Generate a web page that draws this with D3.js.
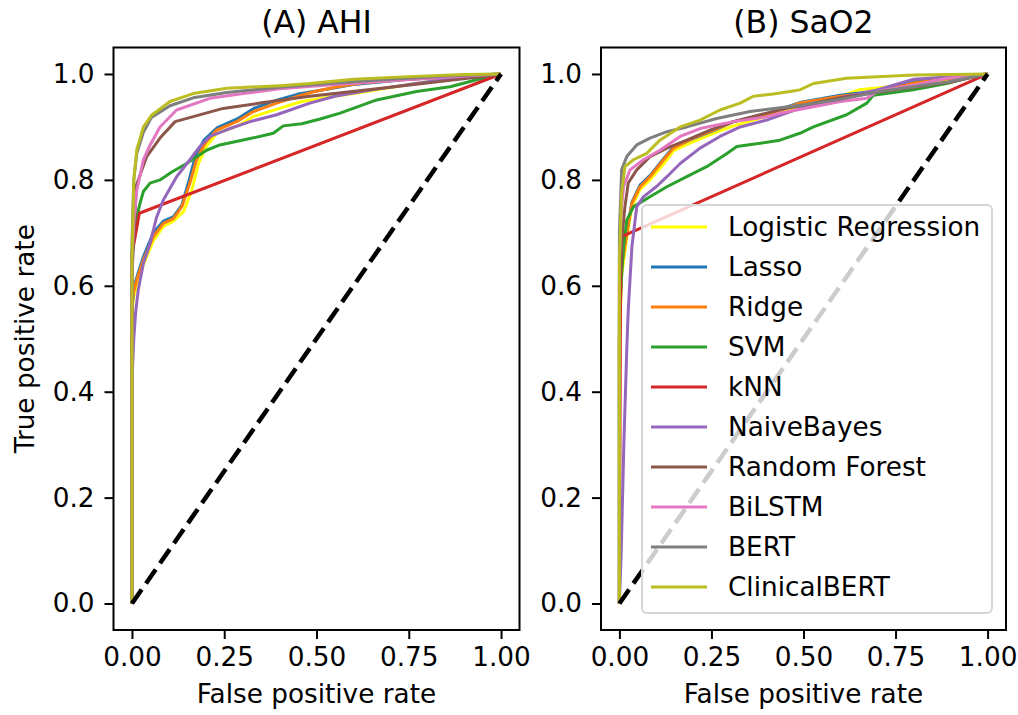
<!DOCTYPE html>
<html>
<head>
<meta charset="utf-8">
<script src="https://cdn.jsdelivr.net/npm/d3@7"></script>
<style>
  body { margin: 0; background: #fff; }
  svg text { font-family: "DejaVu Sans", sans-serif; fill: #000; }
</style>
</head>
<body>
<svg id="chart" width="1018" height="715"></svg>
<script>
// models, in plotting / legend order
const models = ["Logistic Regression", "Lasso", "Ridge", "SVM", "kNN", "NaiveBayes",
	"Random Forest", "BiLSTM", "BERT", "ClinicalBERT"];
const modelColors = ["#ffff00", "#1f77b4", "#ff7f0e", "#2ca02c", "#d62728", "#9467bd",
	"#8c564b", "#e377c2", "#7f7f7f", "#bcbd22"];
const panelTitles = ["(A) AHI", "(B) SaO2"];
const xTicks = [0, 0.25, 0.5, 0.75, 1];
const yTicks = [0, 0.2, 0.4, 0.6, 0.8, 1];
const chance = [[0, 0], [1, 1]];

// (A) AHI  -- [fpr, tpr]
const ahiLR = [[0,0],[0,0.55],[0.005,0.58],[0.013,0.6],[0.031,0.64],[0.058,0.685],[0.085,0.712],[0.112,0.722],[0.14,0.74],[0.162,0.78],[0.18,0.83],[0.2,0.862],[0.23,0.888],[0.29,0.903],[0.33,0.92],[0.4,0.935],[0.46,0.948],[0.55,0.958],[0.62,0.965],[0.75,0.98],[0.85,0.99],[1,1]];
const ahiLasso = [[0,0],[0,0.56],[0.006,0.6],[0.015,0.62],[0.031,0.655],[0.058,0.7],[0.085,0.722],[0.112,0.73],[0.135,0.752],[0.155,0.8],[0.172,0.845],[0.195,0.875],[0.23,0.898],[0.285,0.915],[0.33,0.935],[0.39,0.95],[0.45,0.962],[0.5,0.968],[0.6,0.98],[0.75,0.99],[0.9,0.996],[1,1]];
const ahiRidge = [[0,0],[0,0.57],[0.005,0.59],[0.013,0.611],[0.031,0.649],[0.058,0.693],[0.085,0.718],[0.112,0.727],[0.135,0.749],[0.157,0.794],[0.175,0.838],[0.198,0.869],[0.229,0.894],[0.284,0.91],[0.329,0.929],[0.392,0.945],[0.446,0.957],[0.49,0.966],[0.55,0.975],[0.62,0.983],[0.75,0.99],[0.9,0.996],[1,1]];
const ahiSVM = [[0,0],[0,0.66],[0.005,0.705],[0.022,0.756],[0.031,0.778],[0.049,0.794],[0.076,0.8],[0.108,0.815],[0.148,0.831],[0.202,0.856],[0.238,0.866],[0.32,0.878],[0.383,0.888],[0.41,0.902],[0.46,0.906],[0.51,0.915],[0.564,0.926],[0.663,0.951],[0.771,0.967],[0.862,0.976],[0.934,0.989],[1,1]];
const ahiKNN = [[0,0],[0,0.66],[0.008,0.69],[0.02,0.737],[1,1]];
const ahiNB = [[0,0],[0,0.42],[0.005,0.5],[0.01,0.55],[0.017,0.592],[0.031,0.642],[0.049,0.68],[0.067,0.73],[0.085,0.762],[0.121,0.806],[0.157,0.838],[0.184,0.863],[0.211,0.882],[0.266,0.897],[0.32,0.91],[0.392,0.923],[0.482,0.945],[0.55,0.958],[0.65,0.97],[0.75,0.98],[0.85,0.99],[1,1]];
const ahiRF = [[0,0],[0,0.62],[0.008,0.73],[0.012,0.79],[0.04,0.844],[0.076,0.879],[0.117,0.91],[0.247,0.935],[0.347,0.945],[0.482,0.958],[0.7,0.975],[0.95,0.995],[1,1]];
const ahiBiLSTM = [[0,0],[0,0.65],[0.005,0.72],[0.013,0.78],[0.031,0.838],[0.047,0.863],[0.076,0.9],[0.121,0.932],[0.211,0.954],[0.302,0.963],[0.4,0.972],[0.55,0.98],[0.7,0.987],[0.85,0.994],[1,1]];
const ahiBERT = [[0,0],[0,0.68],[0.005,0.8],[0.013,0.85],[0.031,0.89],[0.053,0.918],[0.103,0.94],[0.166,0.955],[0.257,0.965],[0.4,0.975],[0.55,0.983],[0.7,0.99],[0.85,0.996],[1,1]];
const ahiClinical = [[0,0],[0,0.65],[0.005,0.8],[0.013,0.857],[0.031,0.9],[0.053,0.922],[0.103,0.948],[0.166,0.963],[0.257,0.973],[0.4,0.978],[0.482,0.982],[0.6,0.99],[0.75,0.995],[0.9,0.999],[1,1]];

// (B) SaO2
const saoLR = [[0,0],[0,0.5],[0.006,0.62],[0.02,0.69],[0.034,0.75],[0.056,0.782],[0.083,0.8],[0.12,0.83],[0.147,0.855],[0.2,0.872],[0.255,0.888],[0.31,0.902],[0.4,0.92],[0.49,0.94],[0.6,0.958],[0.65,0.97],[0.8,0.98],[0.9,0.99],[1,1]];
const saoLasso = [[0,0],[0,0.5],[0.006,0.64],[0.02,0.7],[0.034,0.758],[0.056,0.79],[0.083,0.808],[0.12,0.84],[0.147,0.862],[0.2,0.878],[0.255,0.893],[0.31,0.91],[0.4,0.925],[0.49,0.946],[0.6,0.96],[0.7,0.968],[0.8,0.985],[0.9,0.993],[1,1]];
const saoRidge = [[0,0],[0,0.5],[0.006,0.636],[0.02,0.699],[0.034,0.756],[0.056,0.787],[0.083,0.806],[0.12,0.838],[0.147,0.86],[0.2,0.879],[0.255,0.894],[0.31,0.91],[0.4,0.923],[0.49,0.945],[0.6,0.958],[0.7,0.965],[0.8,0.983],[0.9,0.992],[1,1]];
const saoSVM = [[0,0],[0,0.55],[0.011,0.674],[0.02,0.724],[0.038,0.749],[0.083,0.768],[0.129,0.787],[0.183,0.806],[0.237,0.825],[0.292,0.85],[0.319,0.863],[0.382,0.869],[0.436,0.875],[0.49,0.888],[0.527,0.9],[0.617,0.923],[0.672,0.945],[0.69,0.96],[0.798,0.97],[0.889,0.982],[0.943,0.992],[1,1]];
const saoKNN = [[0,0],[0.003,0.6],[0.006,0.693],[1,1]];
const saoNB = [[0,0],[0.005,0.1],[0.012,0.3],[0.02,0.48],[0.024,0.554],[0.034,0.674],[0.047,0.749],[0.065,0.768],[0.1,0.787],[0.129,0.806],[0.165,0.831],[0.219,0.86],[0.273,0.882],[0.328,0.9],[0.4,0.913],[0.49,0.935],[0.6,0.955],[0.7,0.97],[0.8,0.99],[0.9,0.995],[1,1]];
const saoRF = [[0,0],[0,0.6],[0.008,0.7],[0.015,0.749],[0.024,0.794],[0.047,0.819],[0.083,0.844],[0.129,0.86],[0.183,0.875],[0.246,0.894],[0.31,0.91],[0.382,0.923],[0.454,0.935],[0.6,0.955],[0.75,0.97],[0.9,0.985],[1,1]];
const saoBiLSTM = [[0,0],[0,0.65],[0.005,0.74],[0.011,0.787],[0.029,0.819],[0.065,0.838],[0.11,0.856],[0.165,0.882],[0.219,0.897],[0.31,0.91],[0.4,0.919],[0.436,0.926],[0.527,0.938],[0.6,0.948],[0.672,0.954],[0.7,0.967],[0.8,0.979],[0.889,0.992],[1,1]];
const saoBERT = [[0,0],[0,0.7],[0.006,0.819],[0.02,0.844],[0.047,0.866],[0.083,0.879],[0.129,0.891],[0.183,0.9],[0.264,0.916],[0.355,0.929],[0.49,0.941],[0.6,0.952],[0.707,0.967],[0.89,0.985],[1,1]];
const saoClinical = [[0,0],[0,0.65],[0.006,0.775],[0.015,0.825],[0.038,0.838],[0.074,0.85],[0.11,0.875],[0.165,0.9],[0.219,0.913],[0.273,0.932],[0.328,0.945],[0.364,0.958],[0.418,0.962],[0.472,0.968],[0.49,0.97],[0.527,0.982],[0.617,0.992],[0.8,0.998],[1,1]];

const ahiCurves = [ahiLR, ahiLasso, ahiRidge, ahiSVM, ahiKNN, ahiNB, ahiRF, ahiBiLSTM, ahiBERT, ahiClinical];
const saoCurves = [saoLR, saoLasso, saoRidge, saoSVM, saoKNN, saoNB, saoRF, saoBiLSTM, saoBERT, saoClinical];

const svg = d3.select("#chart");
const plotTop = 47.5, plotBottom = 630;
const fontSize = 26.3;

function drawPanel(idx, left, right, curves){
	const x = d3.scaleLinear().domain([-0.05, 1.05]).range([left, right]);
	const y = d3.scaleLinear().domain([-0.05, 1.05]).range([plotBottom, plotTop]);
	const g = svg.append("g");
	const cx = (left + right) / 2;

	const clipId = "clip" + idx;
	g.append("clipPath").attr("id", clipId)
		.append("rect")
		.attr("x", left).attr("y", plotTop)
		.attr("width", right - left).attr("height", plotBottom - plotTop);

	const line = d3.line().x(d => x(d[0])).y(d => y(d[1]));

	const lines = g.append("g").attr("clip-path", `url(#${clipId})`);
	lines.selectAll("path.roc")
		.data(curves)
		.enter()
			.append("path")
			.classed("roc", true)
			.attr("d", line)
			.style("fill", "none")
			.style("stroke", (d, i) => modelColors[i])
			.style("stroke-width", 3)
			.style("stroke-linejoin", "round");

	lines.append("path")
		.attr("d", line(chance))
		.style("fill", "none")
		.style("stroke", "#000")
		.style("stroke-width", 4.5)
		.style("stroke-dasharray", "17,7.5");

	// axes
	const xAxis = g.append("g")
		.attr("transform", `translate(0,${plotBottom})`)
		.call(d3.axisBottom(x).tickValues(xTicks).tickFormat(d3.format(".2f"))
			.tickSize(9).tickPadding(8));
	const yAxis = g.append("g")
		.attr("transform", `translate(${left},0)`)
		.call(d3.axisLeft(y).tickValues(yTicks).tickFormat(d3.format(".1f"))
			.tickSize(9).tickPadding(10));
	[xAxis, yAxis].forEach(a => {
		a.select(".domain").remove();
		a.selectAll(".tick line").style("stroke", "#000").style("stroke-width", 2);
		a.selectAll(".tick text").style("font-size", fontSize + "px")
			.style("font-family", "DejaVu Sans");
	});

	g.append("rect")
		.attr("x", left).attr("y", plotTop)
		.attr("width", right - left).attr("height", plotBottom - plotTop)
		.style("fill", "none")
		.style("stroke", "#000")
		.style("stroke-width", 2);

	g.append("text")
		.attr("x", cx).attr("y", 33)
		.attr("text-anchor", "middle")
		.style("font-size", "31.5px")
		.text(panelTitles[idx]);

	g.append("text")
		.attr("x", cx).attr("y", 703)
		.attr("text-anchor", "middle")
		.style("font-size", fontSize + "px")
		.text("False positive rate");

	return g;
}

drawPanel(0, 113.5, 519.5, ahiCurves);
const rightPanel = drawPanel(1, 601, 1006, saoCurves);

svg.append("text")
	.attr("transform", `translate(34,${(plotTop + plotBottom) / 2}) rotate(-90)`)
	.attr("text-anchor", "middle")
	.style("font-size", fontSize + "px")
	.text("True positive rate");

// legend, upper layer of the right panel
const legend = rightPanel.append("g");
legend.append("rect")
	.attr("x", 642).attr("y", 205)
	.attr("width", 350).attr("height", 408)
	.attr("rx", 5)
	.style("fill", "rgba(255,255,255,0.8)")
	.style("stroke", "#d6d6d6")
	.style("stroke-width", 2);

const items = legend.selectAll("g.item")
	.data(models)
	.enter()
		.append("g")
		.classed("item", true)
		.attr("transform", (d, i) => `translate(0,${227 + i * 40})`);
items.append("line")
	.attr("x1", 651).attr("x2", 707)
	.style("stroke", (d, i) => modelColors[i])
	.style("stroke-width", 3);
items.append("text")
	.attr("x", 728).attr("dy", "0.36em")
	.style("font-size", fontSize + "px")
	.text(d => d);
</script>
</body>
</html>
